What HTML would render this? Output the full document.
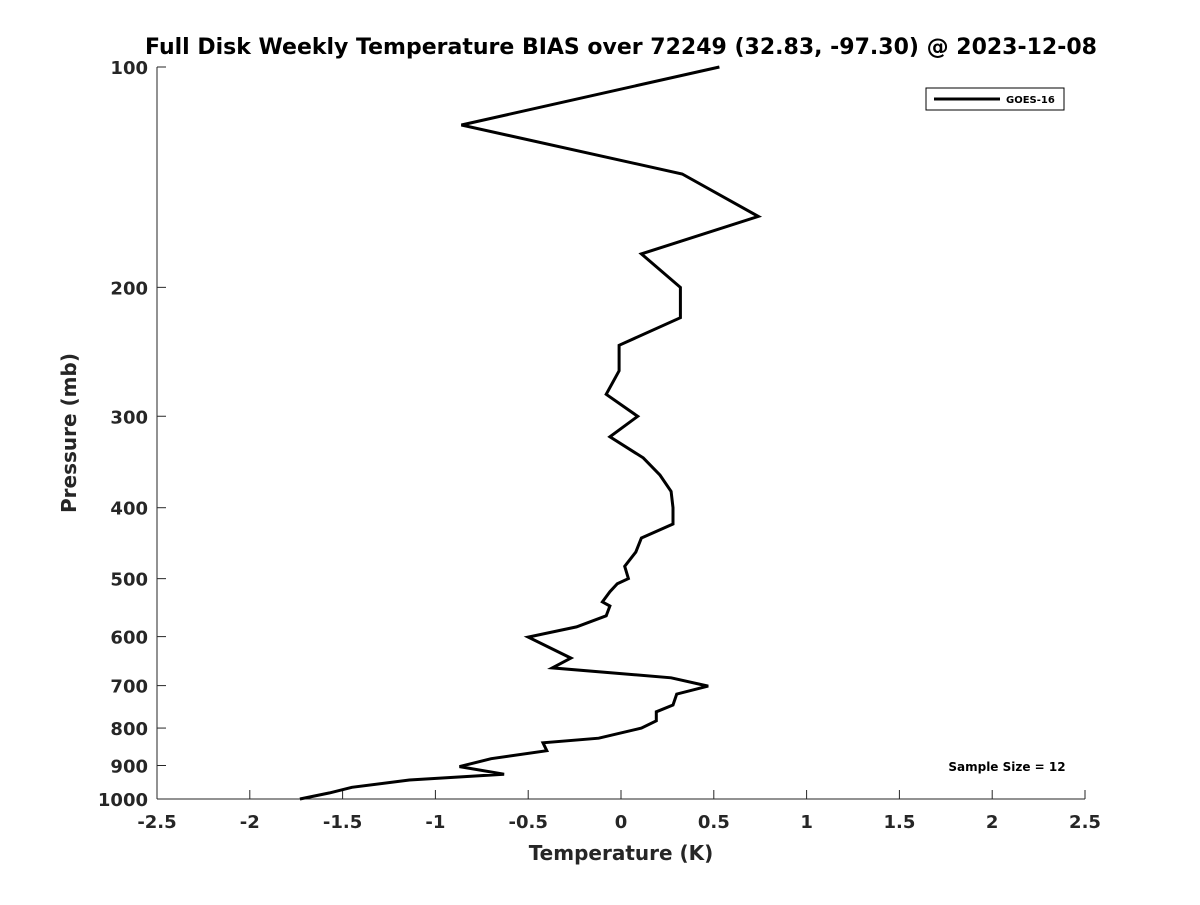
<!DOCTYPE html>
<html><head><meta charset="utf-8"><style>
body{margin:0;background:#fff;}
svg text{font-family:"DejaVu Sans","Liberation Sans",sans-serif;font-weight:bold;fill:#262626;}
</style></head><body>
<svg id="chart" width="1200" height="900" viewBox="0 0 1200 900">
<rect width="1200" height="900" fill="#fff"/>
<text x="621" y="54" text-anchor="middle" font-size="22" style="fill:#000">Full Disk Weekly Temperature BIAS over 72249 (32.83, -97.30) @ 2023-12-08</text>
<g id="axes"></g>
<text x="621" y="860" text-anchor="middle" font-size="20">Temperature (K)</text>
<text transform="translate(76,433) rotate(-90)" text-anchor="middle" font-size="20">Pressure (mb)</text>
<g>
<rect x="926" y="88" width="138" height="22" fill="#fff" stroke="#000" stroke-width="1"/>
<line x1="934" y1="99" x2="1000" y2="99" stroke="#000" stroke-width="3"/>
<text x="1006" y="103" font-size="10" style="fill:#000">GOES-16</text>
</g>
<text x="1007" y="771" text-anchor="middle" font-size="12" style="fill:#000">Sample Size = 12</text>
</svg>
<script>
const pressures=[100,120,140,160,180,200,220,240,260,280,300,320,342,361,380,400,421,440,460,481,500,508,521,538,545,562,582,601,642,662,683,701,719,744,760,782,800,826,838,859,881,903,925,942,964,981,1000];
const temps=[0.53,-0.86,0.33,0.74,0.11,0.32,0.32,-0.01,-0.01,-0.08,0.09,-0.06,0.12,0.21,0.27,0.28,0.28,0.11,0.08,0.02,0.04,-0.02,-0.06,-0.10,-0.06,-0.08,-0.24,-0.50,-0.27,-0.37,0.27,0.47,0.30,0.28,0.19,0.19,0.11,-0.12,-0.42,-0.40,-0.70,-0.87,-0.63,-1.14,-1.45,-1.57,-1.73];
const xTicks=[-2.5,-2,-1.5,-1,-0.5,0,0.5,1,1.5,2,2.5];
const yTicks=[100,200,300,400,500,600,700,800,900,1000];
const NS="http://www.w3.org/2000/svg";
const L=157,R=1085,T=67,B=799;
const xS=v=>L+(v+2.5)/5*(R-L);
const yS=p=>T+(Math.log10(p)-2)*(B-T);
const g=document.getElementById('axes');
function mk(tag,a){const e=document.createElementNS(NS,tag);for(const k in a)e.setAttribute(k,a[k]);g.appendChild(e);return e;}
let e=mk('line',{x1:L,y1:T,x2:L,y2:B,stroke:'#262626','stroke-width':1});


e=mk('line',{x1:L,y1:B,x2:R,y2:B,stroke:'#262626','stroke-width':1});


xTicks.forEach(v=>{
 const x=xS(v);
 let t=mk('line',{x1:x,y1:B,x2:x,y2:B-9,stroke:'#262626'});
 
 
 let l=mk('text',{x:x,y:B+29,'text-anchor':'middle','font-size':18});
 l.textContent=String(v);
 
 
});
yTicks.forEach(p=>{
 const y=yS(p);
 let t=mk('line',{x1:L,y1:y,x2:L+9,y2:y,stroke:'#262626'});
 
 
 let l=mk('text',{x:L-9,y:y+7,'text-anchor':'end','font-size':18});
 l.textContent=String(p);
 
 
});
const pts=temps.map((t,i)=>xS(t).toFixed(1)+','+yS(pressures[i]).toFixed(1)).join(' ');
const line=mk('polyline',{points:pts,fill:'none',stroke:'#000','stroke-width':3,'stroke-linejoin':'miter'});


</script>
</body></html>
